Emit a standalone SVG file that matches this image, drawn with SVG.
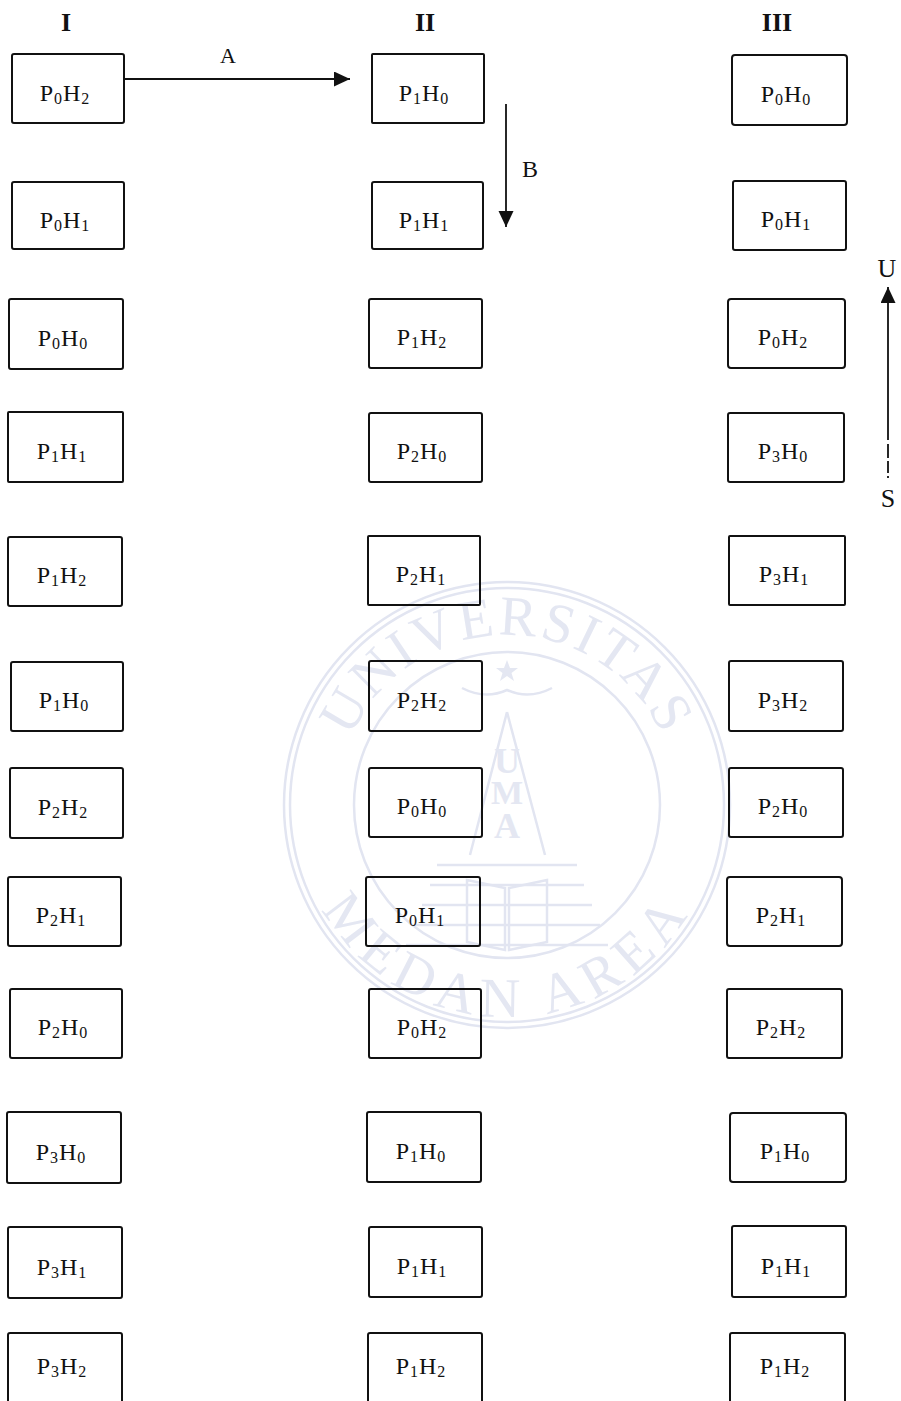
<svg xmlns="http://www.w3.org/2000/svg" width="901" height="1401" viewBox="0 0 901 1401">
<style>
.box{fill:none;stroke:#111;stroke-width:2}
.lbl{font-family:"Liberation Serif","Times New Roman",serif;font-size:24px;fill:#111;text-anchor:middle;letter-spacing:1px}
.s{font-size:16px}
.hdr{font-family:"Liberation Serif","Times New Roman",serif;font-size:26px;font-weight:bold;fill:#111;text-anchor:middle}
.cl{font-family:"Liberation Serif","Times New Roman",serif;fill:#111;text-anchor:middle}
.con{stroke:#111;stroke-width:1.8;fill:none}
.wm{fill:none;stroke:#e2e5f1;stroke-width:2.5}
.wmt{font-family:"Liberation Serif","Times New Roman",serif;fill:#e4e7f2;text-anchor:middle}
</style>
<defs>
<marker id="ah" markerUnits="userSpaceOnUse" markerWidth="17" markerHeight="16" refX="16" refY="7.5" orient="auto">
<path d="M0,0 L16,7.5 L0,15 z" fill="#111"/>
</marker>
<path id="arcTop" d="M337,805 A170,170 0 0 1 677,805"/>
<path id="arcBot" d="M295,805 A212,212 0 0 0 719,805"/>
</defs>
<rect width="901" height="1401" fill="#fff"/>

<g id="watermark">
<circle class="wm" cx="507" cy="805" r="223"/>
<circle class="wm" cx="507" cy="805" r="217" stroke-width="1.2"/>
<circle class="wm" cx="507" cy="805" r="153"/>
<text class="wmt" font-size="56" letter-spacing="3"><textPath href="#arcTop" startOffset="50%">UNIVERSITAS</textPath></text>
<text class="wmt" font-size="56" letter-spacing="8"><textPath href="#arcBot" startOffset="50%">MEDAN AREA</textPath></text>
<path class="wm" d="M507,712 L470,855 M507,712 L545,855"/>
<path d="M507,660 l3,8 8,0 -6.5,5 2.5,8 -7,-5 -7,5 2.5,-8 -6.5,-5 8,0z" fill="#e4e7f2"/>
<path class="wm" d="M462,688 Q485,700 507,690 Q529,700 552,688"/>
<text class="wmt" x="507" y="773" font-size="36" font-weight="bold">U</text>
<text class="wmt" x="507" y="804" font-size="34" font-weight="bold">M</text>
<text class="wmt" x="507" y="838" font-size="36" font-weight="bold">A</text>
<path class="wm" d="M437,865 H577 M430,885 H584 M422,905 H592 M414,925 H600 M406,945 H608"/>
<path class="wm" d="M467,880 L505,888 L505,950 L467,942 Z M547,880 L509,888 L509,950 L547,942 Z"/>
</g>

<g id="headers">
<text class="hdr" x="66" y="31">I</text>
<text class="hdr" x="425" y="31">II</text>
<text class="hdr" x="777" y="31">III</text>
</g>

<g id="connectors">
<line class="con" x1="124" y1="79" x2="350" y2="79" marker-end="url(#ah)"/>
<text class="cl" x="228" y="63" font-size="22">A</text>
<line class="con" x1="506" y1="104" x2="506" y2="227" marker-end="url(#ah)"/>
<text class="cl" x="530" y="177" font-size="24">B</text>
<line class="con" x1="888" y1="440" x2="888" y2="287" marker-end="url(#ah)"/>
<line class="con" x1="888" y1="444" x2="888" y2="478" stroke-width="1.4" stroke-dasharray="14 3 12 3"/>
<text class="cl" x="887" y="277" font-size="26">U</text>
<text class="cl" x="888" y="507" font-size="26">S</text>
</g>

<g id="n-I-1"><rect class="box" x="12" y="54" width="112" height="69" rx="2"/><text class="lbl" x="65" y="101">P<tspan class="s" dy="3">0</tspan><tspan dy="-3">H</tspan><tspan class="s" dy="3">2</tspan></text></g>
<g id="n-I-2"><rect class="box" x="12" y="182" width="112" height="67" rx="2"/><text class="lbl" x="65" y="228">P<tspan class="s" dy="3">0</tspan><tspan dy="-3">H</tspan><tspan class="s" dy="3">1</tspan></text></g>
<g id="n-I-3"><rect class="box" x="9" y="299" width="114" height="70" rx="2"/><text class="lbl" x="63" y="346">P<tspan class="s" dy="3">0</tspan><tspan dy="-3">H</tspan><tspan class="s" dy="3">0</tspan></text></g>
<g id="n-I-4"><rect class="box" x="8" y="412" width="115" height="70" rx="1"/><text class="lbl" x="62" y="459">P<tspan class="s" dy="3">1</tspan><tspan dy="-3">H</tspan><tspan class="s" dy="3">1</tspan></text></g>
<g id="n-I-5"><rect class="box" x="8" y="537" width="114" height="69" rx="2"/><text class="lbl" x="62" y="583">P<tspan class="s" dy="3">1</tspan><tspan dy="-3">H</tspan><tspan class="s" dy="3">2</tspan></text></g>
<g id="n-I-6"><rect class="box" x="11" y="662" width="112" height="69" rx="2"/><text class="lbl" x="64" y="708">P<tspan class="s" dy="3">1</tspan><tspan dy="-3">H</tspan><tspan class="s" dy="3">0</tspan></text></g>
<g id="n-I-7"><rect class="box" x="10" y="768" width="113" height="70" rx="2"/><text class="lbl" x="63" y="815">P<tspan class="s" dy="3">2</tspan><tspan dy="-3">H</tspan><tspan class="s" dy="3">2</tspan></text></g>
<g id="n-I-8"><rect class="box" x="8" y="877" width="113" height="69" rx="2"/><text class="lbl" x="61" y="923">P<tspan class="s" dy="3">2</tspan><tspan dy="-3">H</tspan><tspan class="s" dy="3">1</tspan></text></g>
<g id="n-I-9"><rect class="box" x="10" y="989" width="112" height="69" rx="2"/><text class="lbl" x="63" y="1035">P<tspan class="s" dy="3">2</tspan><tspan dy="-3">H</tspan><tspan class="s" dy="3">0</tspan></text></g>
<g id="n-I-10"><rect class="box" x="7" y="1112" width="114" height="71" rx="2"/><text class="lbl" x="61" y="1160">P<tspan class="s" dy="3">3</tspan><tspan dy="-3">H</tspan><tspan class="s" dy="3">0</tspan></text></g>
<g id="n-I-11"><rect class="box" x="8" y="1227" width="114" height="71" rx="2"/><text class="lbl" x="62" y="1275">P<tspan class="s" dy="3">3</tspan><tspan dy="-3">H</tspan><tspan class="s" dy="3">1</tspan></text></g>
<g id="n-I-12"><rect class="box" x="8" y="1333" width="114" height="72" rx="2"/><text class="lbl" x="62" y="1374">P<tspan class="s" dy="3">3</tspan><tspan dy="-3">H</tspan><tspan class="s" dy="3">2</tspan></text></g>

<g id="n-II-1"><rect class="box" x="372" y="54" width="112" height="69" rx="1"/><text class="lbl" x="424" y="101">P<tspan class="s" dy="3">1</tspan><tspan dy="-3">H</tspan><tspan class="s" dy="3">0</tspan></text></g>
<g id="n-II-2"><rect class="box" x="372" y="182" width="111" height="67" rx="2"/><text class="lbl" x="424" y="228">P<tspan class="s" dy="3">1</tspan><tspan dy="-3">H</tspan><tspan class="s" dy="3">1</tspan></text></g>
<g id="n-II-3"><rect class="box" x="369" y="299" width="113" height="69" rx="2"/><text class="lbl" x="422" y="345">P<tspan class="s" dy="3">1</tspan><tspan dy="-3">H</tspan><tspan class="s" dy="3">2</tspan></text></g>
<g id="n-II-4"><rect class="box" x="369" y="413" width="113" height="69" rx="2"/><text class="lbl" x="422" y="459">P<tspan class="s" dy="3">2</tspan><tspan dy="-3">H</tspan><tspan class="s" dy="3">0</tspan></text></g>
<g id="n-II-5"><rect class="box" x="368" y="536" width="112" height="69" rx="1"/><text class="lbl" x="421" y="582">P<tspan class="s" dy="3">2</tspan><tspan dy="-3">H</tspan><tspan class="s" dy="3">1</tspan></text></g>
<g id="n-II-6"><rect class="box" x="369" y="661" width="113" height="70" rx="2"/><text class="lbl" x="422" y="708">P<tspan class="s" dy="3">2</tspan><tspan dy="-3">H</tspan><tspan class="s" dy="3">2</tspan></text></g>
<g id="n-II-7"><rect class="box" x="369" y="768" width="113" height="69" rx="2"/><text class="lbl" x="422" y="814">P<tspan class="s" dy="3">0</tspan><tspan dy="-3">H</tspan><tspan class="s" dy="3">0</tspan></text></g>
<g id="n-II-8"><rect class="box" x="366" y="877" width="114" height="69" rx="2"/><text class="lbl" x="420" y="923">P<tspan class="s" dy="3">0</tspan><tspan dy="-3">H</tspan><tspan class="s" dy="3">1</tspan></text></g>
<g id="n-II-9"><rect class="box" x="369" y="989" width="112" height="69" rx="2"/><text class="lbl" x="422" y="1035">P<tspan class="s" dy="3">0</tspan><tspan dy="-3">H</tspan><tspan class="s" dy="3">2</tspan></text></g>
<g id="n-II-10"><rect class="box" x="367" y="1112" width="114" height="70" rx="2"/><text class="lbl" x="421" y="1159">P<tspan class="s" dy="3">1</tspan><tspan dy="-3">H</tspan><tspan class="s" dy="3">0</tspan></text></g>
<g id="n-II-11"><rect class="box" x="369" y="1227" width="113" height="70" rx="2"/><text class="lbl" x="422" y="1274">P<tspan class="s" dy="3">1</tspan><tspan dy="-3">H</tspan><tspan class="s" dy="3">1</tspan></text></g>
<g id="n-II-12"><rect class="box" x="368" y="1333" width="114" height="72" rx="2"/><text class="lbl" x="421" y="1374">P<tspan class="s" dy="3">1</tspan><tspan dy="-3">H</tspan><tspan class="s" dy="3">2</tspan></text></g>

<g id="n-III-1"><rect class="box" x="732" y="55" width="115" height="70" rx="3"/><text class="lbl" x="786" y="102">P<tspan class="s" dy="3">0</tspan><tspan dy="-3">H</tspan><tspan class="s" dy="3">0</tspan></text></g>
<g id="n-III-2"><rect class="box" x="733" y="181" width="113" height="69" rx="2"/><text class="lbl" x="786" y="227">P<tspan class="s" dy="3">0</tspan><tspan dy="-3">H</tspan><tspan class="s" dy="3">1</tspan></text></g>
<g id="n-III-3"><rect class="box" x="728" y="299" width="117" height="69" rx="3"/><text class="lbl" x="783" y="345">P<tspan class="s" dy="3">0</tspan><tspan dy="-3">H</tspan><tspan class="s" dy="3">2</tspan></text></g>
<g id="n-III-4"><rect class="box" x="728" y="413" width="116" height="69" rx="2"/><text class="lbl" x="783" y="459">P<tspan class="s" dy="3">3</tspan><tspan dy="-3">H</tspan><tspan class="s" dy="3">0</tspan></text></g>
<g id="n-III-5"><rect class="box" x="729" y="536" width="116" height="69" rx="1"/><text class="lbl" x="784" y="582">P<tspan class="s" dy="3">3</tspan><tspan dy="-3">H</tspan><tspan class="s" dy="3">1</tspan></text></g>
<g id="n-III-6"><rect class="box" x="729" y="661" width="114" height="70" rx="2"/><text class="lbl" x="783" y="708">P<tspan class="s" dy="3">3</tspan><tspan dy="-3">H</tspan><tspan class="s" dy="3">2</tspan></text></g>
<g id="n-III-7"><rect class="box" x="729" y="768" width="114" height="69" rx="2"/><text class="lbl" x="783" y="814">P<tspan class="s" dy="3">2</tspan><tspan dy="-3">H</tspan><tspan class="s" dy="3">0</tspan></text></g>
<g id="n-III-8"><rect class="box" x="727" y="877" width="115" height="69" rx="3"/><text class="lbl" x="781" y="923">P<tspan class="s" dy="3">2</tspan><tspan dy="-3">H</tspan><tspan class="s" dy="3">1</tspan></text></g>
<g id="n-III-9"><rect class="box" x="727" y="989" width="115" height="69" rx="2"/><text class="lbl" x="781" y="1035">P<tspan class="s" dy="3">2</tspan><tspan dy="-3">H</tspan><tspan class="s" dy="3">2</tspan></text></g>
<g id="n-III-10"><rect class="box" x="730" y="1113" width="116" height="69" rx="3"/><text class="lbl" x="785" y="1159">P<tspan class="s" dy="3">1</tspan><tspan dy="-3">H</tspan><tspan class="s" dy="3">0</tspan></text></g>
<g id="n-III-11"><rect class="box" x="732" y="1226" width="114" height="71" rx="2"/><text class="lbl" x="786" y="1274">P<tspan class="s" dy="3">1</tspan><tspan dy="-3">H</tspan><tspan class="s" dy="3">1</tspan></text></g>
<g id="n-III-12"><rect class="box" x="730" y="1333" width="115" height="72" rx="2"/><text class="lbl" x="785" y="1374">P<tspan class="s" dy="3">1</tspan><tspan dy="-3">H</tspan><tspan class="s" dy="3">2</tspan></text></g>
</svg>
